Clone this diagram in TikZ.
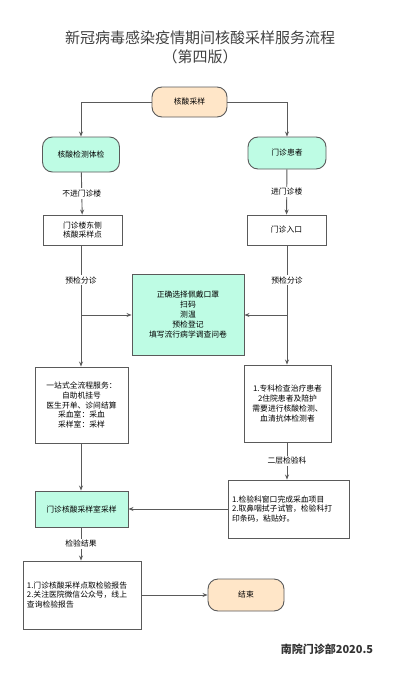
\documentclass[tikz,border=0pt]{standalone}
\usepackage{fontspec}
\setmainfont{Noto Sans CJK SC}
\usetikzlibrary{arrows.meta}
\definecolor{mint}{RGB}{190,252,228}
\definecolor{peach}{RGB}{255,230,200}
\definecolor{edge}{RGB}{90,90,90}
\begin{document}
\begin{tikzpicture}[x=1pt,y=-1pt, >={Stealth[length=5pt,width=4pt]},
 font=\fontsize{7.8}{9.8}\selectfont,
 box/.style={draw=edge,line width=0.9pt,align=center,inner sep=2pt},
 term/.style={box,rounded corners=10pt},
 flow/.style={->,draw=edge,line width=0.9pt},
 lbl/.style={fill=white,inner sep=1.5pt}]
\useasboundingbox (0,0) rectangle (415,688);
\node[text=black!75,font=\fontsize{15}{19}\selectfont,align=center] (title) at (200,47) {新冠病毒感染疫情期间核酸采样服务流程\\（第四版）};
\node[term,fill=peach,minimum width=75pt,minimum height=30pt] (start) at (189.5,102) {核酸采样};
\node[term,fill=mint,minimum width=77pt,minimum height=35pt] (check) at (81,154.5) {核酸检测体检};
\node[term,fill=mint,minimum width=78pt,minimum height=32pt] (patient) at (287,153) {门诊患者};
\node[box,minimum width=79pt,minimum height=30pt] (east) at (82.5,230) {门诊楼东侧\\核酸采样点};
\node[box,minimum width=79pt,minimum height=30pt] (entry) at (286.5,230) {门诊入口};
\node[box,fill=mint,minimum width=112pt,minimum height=81pt] (pre) at (188,314.5) {正确选择佩戴口罩\\扫码\\测温\\预检登记\\填写流行病学调查问卷};
\node[box,minimum width=93pt,minimum height=76pt] (onestop) at (81.5,405) {一站式全流程服务：\\自助机挂号\\医生开单、诊间结算\\采血室：采血\\采样室：采样};
\node[box,minimum width=87pt,minimum height=77pt] (special) at (287.5,403.5) {1.专科检查治疗患者\\2住院患者及陪护\\需要进行核酸检测、\\血清抗体检测者};
\node[box,align=left,text width=113pt,minimum height=58pt,inner sep=4pt] (lab) at (288.5,509) {1.检验科窗口完成采血项目\\2.取鼻咽拭子试管，检验科打\\印条码，粘贴好。};
\node[box,fill=mint,minimum width=93pt,minimum height=36pt] (sample) at (81.5,509) {门诊核酸采样室采样};
\node[box,align=left,text width=110pt,minimum height=68pt,inner sep=4pt] (report) at (82,595) {1.门诊核酸采样点取检验报告\\2.关注医院微信公众号，线上\\查询检验报告};
\node[term,fill=peach,minimum width=76pt,minimum height=32pt] (finish) at (246,595) {结束};
\node[text=black!80,font=\bfseries\fontsize{11}{13}\selectfont] (footer) at (327,649) {南院门诊部2020.5};
\coordinate (lsplit) at (81,315);
\coordinate (rsplit) at (287,315);
\draw[flow] (start.west) -| (check.north);
\draw[flow] (start.east) -| (patient.north);
\draw[flow] (check) -- node[lbl] {不进门诊楼} (east);
\draw[flow] (patient) -- node[lbl] {进门诊楼} (entry);
\draw[draw=edge,line width=0.9pt] (east.south -| lsplit) -- node[lbl] {预检分诊} (lsplit);
\draw[draw=edge,line width=0.9pt] (entry.south -| rsplit) -- node[lbl] {预检分诊} (rsplit);
\draw[flow] (lsplit) -- (lsplit -| pre.west);
\draw[flow] (rsplit) -- (rsplit -| pre.east);
\draw[flow] (lsplit) -- (lsplit |- onestop.north);
\draw[flow] (rsplit) -- (rsplit |- special.north);
\draw[flow] (special.south -| rsplit) -- node[lbl] {二层检验科} (rsplit |- lab.north);
\draw[flow] (lab.west) -- (sample.east);
\draw[flow] (onestop.south -| lsplit) -- (lsplit |- sample.north);
\draw[flow] (sample.south -| lsplit) -- node[lbl] {检验结果} (lsplit |- report.north);
\draw[flow] (report) -- (finish);
\end{tikzpicture}
\end{document}
